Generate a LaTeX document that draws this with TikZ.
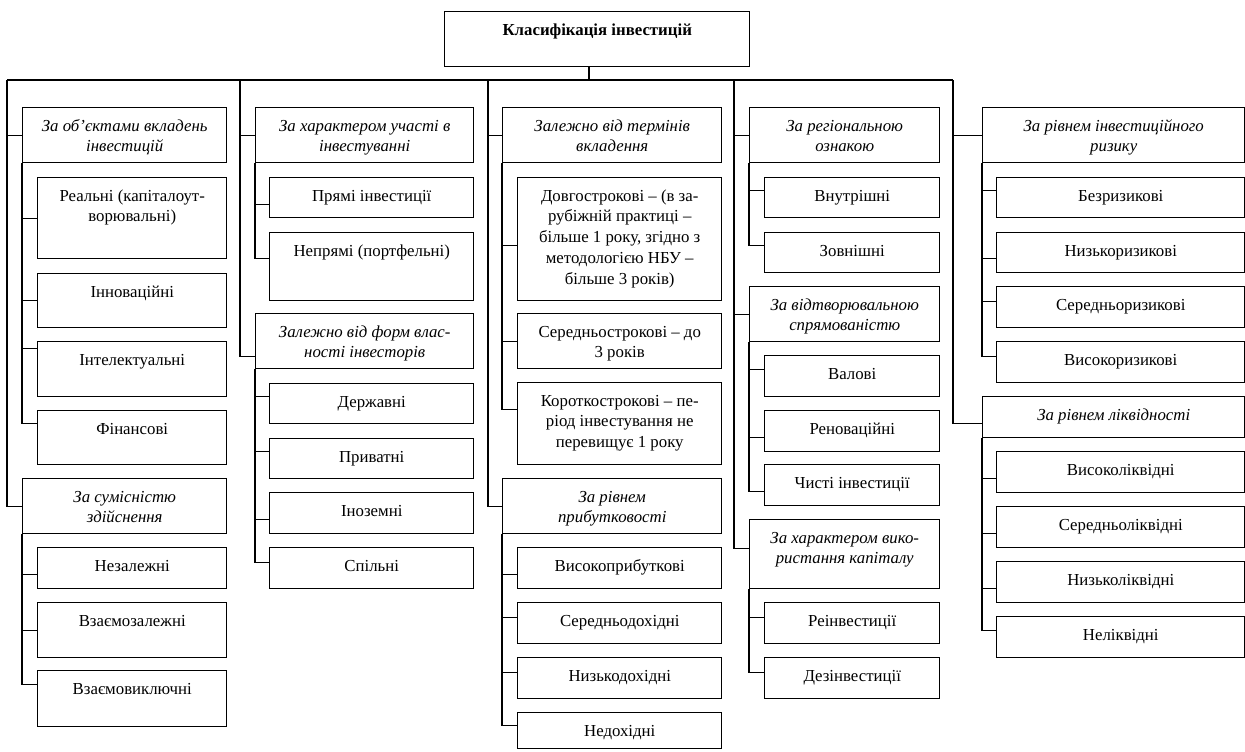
\documentclass[tikz,border=0pt]{standalone}
\usepackage{fontspec}
\setmainfont{Liberation Serif}
\usepackage{tikz}
\usetikzlibrary{calc}
\newdimen\unitpx \unitpx=0.75pt
\tikzset{
  cell/.style={draw, line width=1.1pt, inner sep=0pt, anchor=north west, font=\fontsize{12.6}{15.6}\selectfont},
  head/.style={cell, font=\fontsize{12.6}{15.6}\selectfont\itshape},
  root/.style={cell, font=\fontsize{12.6}{15.6}\selectfont\bfseries},
  link/.style={line width=1.1pt},
}
\def\cell[#1](#2)(#3,#4)(#5,#6)#7{\node[#1] (#2) at (#3,#4) {\parbox[t][#6\unitpx][t]{#5\unitpx}{\centering\rule{0pt}{17.5pt}#7}};}

\begin{document}
\begin{tikzpicture}[x=0.75pt, y=-0.75pt]
			%%%%% START %%%%%
			\useasboundingbox (0, 0) rectangle (1245, 751);
			
			\cell[root](title)(444, 11)(305, 55){Класифікація інвестицій}
			
			% column 1
			\cell[head](catA1)(22, 107)(204, 55){За об’єктами вкладень\\інвестицій}
			\cell[cell](A1)(37, 177)(189, 81){Реальні (капіталоут-\\ворювальні)}
			\cell[cell](A2)(37, 273)(189, 54){Інноваційні}
			\cell[cell](A3)(37, 341)(189, 55){Інтелектуальні}
			\cell[cell](A4)(37, 410)(189, 54){Фінансові}
			\cell[head](catA2)(22, 478)(204, 55){За сумісністю\\здійснення}
			\cell[cell](A5)(37, 547)(189, 41){Незалежні}
			\cell[cell](A6)(37, 602)(189, 55){Взаємозалежні}
			\cell[cell](A7)(37, 670)(189, 56){Взаємовиключні}
			
			% column 2
			\cell[head](catB1)(255, 107)(218, 55){За характером участі в\\інвестуванні}
			\cell[cell](B1)(269, 177)(204, 40){Прямі інвестиції}
			\cell[cell](B2)(269, 232)(204, 68){Непрямі (портфельні)}
			\cell[head](catB2)(255, 313)(218, 55){Залежно від форм влас-\\ності інвесторів}
			\cell[cell](B3)(269, 383)(204, 40){Державні}
			\cell[cell](B4)(269, 438)(204, 40){Приватні}
			\cell[cell](B5)(269, 492)(204, 41){Іноземні}
			\cell[cell](B6)(269, 547)(204, 41){Спільні}
			
			% column 3
			\cell[head](catC1)(502, 107)(219, 55){Залежно від термінів\\вкладення}
			\cell[cell](C1)(517, 177)(204, 123){Довгострокові – (в за-\\рубіжній практиці –\\більше 1 року, згідно з\\методологією НБУ –\\більше 3 років)}
			\cell[cell](C2)(517, 313)(204, 55){Середньострокові – до\\3 років}
			\cell[cell](C3)(517, 382)(204, 82){Короткострокові – пе-\\ріод інвестування не\\перевищує 1 року}
			\cell[head](catC2)(502, 478)(219, 55){За рівнем\\прибутковості}
			\cell[cell](C4)(517, 547)(204, 41){Високоприбуткові}
			\cell[cell](C5)(517, 602)(204, 41){Середньодохідні}
			\cell[cell](C6)(517, 657)(204, 41){Низькодохідні}
			\cell[cell](C7)(517, 712)(204, 36){Недохідні}
			
			% column 4
			\cell[head](catD1)(749, 107)(190, 55){За регіональною\\ознакою}
			\cell[cell](D1)(764, 177)(175, 40){Внутрішні}
			\cell[cell](D2)(764, 232)(175, 40){Зовнішні}
			\cell[head](catD2)(749, 286)(190, 55){За відтворювальною\\спрямованістю}
			\cell[cell](D3)(764, 355)(175, 41){Валові}
			\cell[cell](D4)(764, 410)(175, 41){Реноваційні}
			\cell[cell](D5)(764, 464)(175, 41){Чисті інвестиції}
			\cell[head](catD3)(749, 519)(190, 69){За характером вико-\\ристання капіталу}
			\cell[cell](D6)(764, 602)(175, 41){Реінвестиції}
			\cell[cell](D7)(764, 657)(175, 41){Дезінвестиції}
			
			% column 5
			\cell[head](catE1)(982, 107)(262, 55){За рівнем інвестиційного\\ризику}
			\cell[cell](E1)(996, 177)(248, 40){Безризикові}
			\cell[cell](E2)(996, 232)(248, 40){Низькоризикові}
			\cell[cell](E3)(996, 286)(248, 41){Середньоризикові}
			\cell[cell](E4)(996, 341)(248, 41){Високоризикові}
			\cell[head](catE2)(982, 396)(262, 41){За рівнем ліквідності}
			\cell[cell](E5)(996, 451)(248, 41){Високоліквідні}
			\cell[cell](E6)(996, 506)(248, 41){Середньоліквідні}
			\cell[cell](E7)(996, 561)(248, 41){Низьколіквідні}
			\cell[cell](E8)(996, 616)(248, 41){Неліквідні}
			
			% bus
			\coordinate (hub) at (589, 80);
			\coordinate (busA) at (7, 80);
			\coordinate (busB) at (240, 80);
			\coordinate (busC) at (488, 80);
			\coordinate (busD) at (734, 80);
			\coordinate (busE) at (953, 80);
			\draw[link] (hub |- title.south) -- (hub);
			\draw[link] (busA) -- (busE);
			
			\foreach \bus/\cat/\d in {busA/catA1/0, busA/catA2/0, busB/catB1/0, busB/catB2/15,
				busC/catC1/0, busC/catC2/0, busD/catD1/0, busD/catD2/0, busD/catD3/-6,
				busE/catE1/0, busE/catE2/6}
				\draw[link] (\bus) |- ([yshift={-(\d)*0.75pt}]\cat.west);
			
			\foreach \cat/\item/\d in {catA1/A1/0, catA1/A2/0, catA1/A3/-21, catA1/A4/-14,
				catA2/A5/6, catA2/A6/0, catA2/A7/-14,
				catB1/B1/7, catB1/B2/-8, catB2/B3/-7, catB2/B4/-7, catB2/B5/6, catB2/B6/-6,
				catC1/C1/6, catC1/C2/0, catC1/C3/-14,
				catC2/C4/6, catC2/C5/-6, catC2/C6/-6, catC2/C7/-5,
				catD1/D1/-7, catD1/D2/-7, catD2/D3/-7, catD2/D4/6, catD2/D5/6,
				catD3/D6/-6, catD3/D7/-6,
				catE1/E1/-7, catE1/E2/6, catE1/E3/-6, catE1/E4/-6,
				catE2/E5/6, catE2/E6/6, catE2/E7/6, catE2/E8/-7}
				\draw[link] (\cat.south west) |- ([yshift={-(\d)*0.75pt}]\item.west);
			
			%%%%% END %%%%%
\end{tikzpicture}
\end{document}
